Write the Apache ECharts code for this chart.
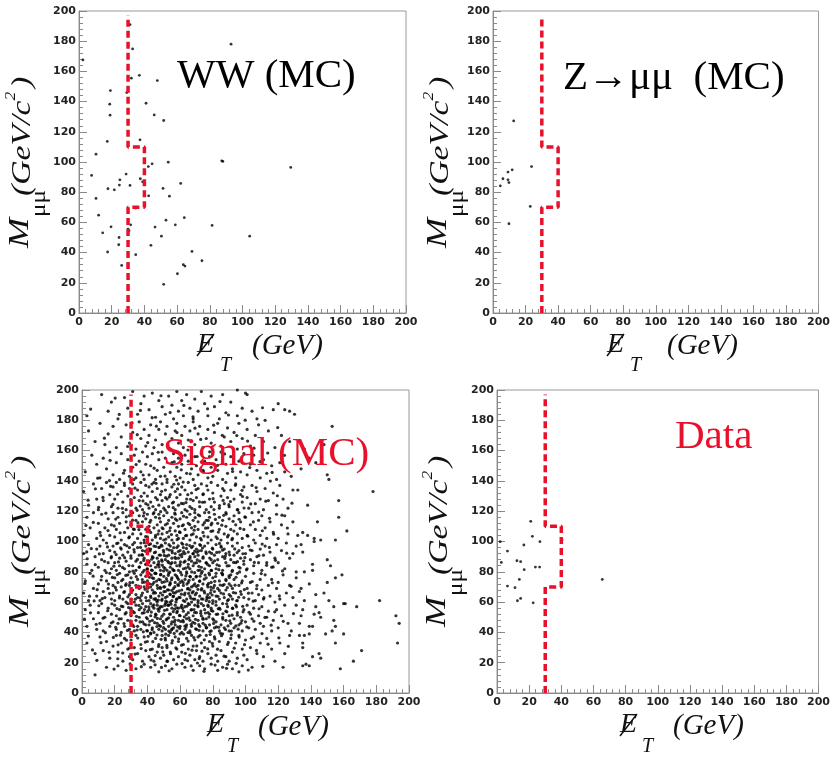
<!DOCTYPE html>
<html><head><meta charset="utf-8">
<script src="https://cdn.jsdelivr.net/npm/echarts@6/dist/echarts.min.js"></script>
<style>html,body{margin:0;padding:0;background:#fff}#c{width:833px;height:757px}</style>
</head><body><div id="c"></div>
<script>
// ---- data ----
const axisMin = 0, axisMax = 200, axisStep = 20;
const cutX = [30, 30, 40, 40, 30, 30];
const cutY = [0, 70, 70, 110, 110, 197];
const panelLabels = ['WW (MC)', 'Z\u2192\u03bc\u03bc  (MC)', 'Signal (MC)', 'Data'];

const wwPts = [[2.4,167.6],[31.2,191],[32.8,174.9],[93,178],[32,155.5],[36.9,157.4],[47.9,153.9],[19.2,147.3],[29.2,146],[18.8,138.3],[41,138.9],[19,131],[46,131.2],[51.8,127.5],[17.3,113.6],[37.3,114.7],[10.4,105.2],[44.7,98.8],[42.4,97],[54.6,99.9],[87.3,100.8],[88,100.4],[129.5,96.4],[7.7,91.1],[28.8,92],[25,88.2],[37.5,88.9],[38.9,86.9],[24.7,84.7],[31.2,84.5],[62.2,85.8],[17.7,82.3],[21.6,81.6],[51.4,82.5],[42.6,77.6],[55.3,77.4],[10.4,75.9],[34.7,69.5],[12,64.8],[64.4,63.1],[53.2,61.5],[31.6,58.4],[19.6,57.1],[46.5,56.9],[58.9,58.4],[81.4,58],[30,55.6],[30.6,54.5],[14.5,53.1],[50.4,50.9],[104.4,50.9],[24.5,50],[24.3,45.2],[44,44.8],[17.5,40.4],[34.7,38.6],[69.1,40.8],[75.2,34.6],[63.8,32],[64.8,31.1],[26.1,31.5],[60.2,26],[51.8,19]];

const zPts = [[12.7,127.2],[23.7,97],[11.8,94.8],[9.2,93.3],[6.1,88.9],[9.2,88.2],[9.8,86.4],[4.5,84.2],[22.9,70.6],[9.8,59.1]];

const dataPts = [[21,113.3],[22,103.4],[26.7,99.9],[2,99.9],[16.7,97.7],[6.5,93.7],[12.4,87.3],[14.7,86.7],[2.7,86.2],[23.9,83.1],[26.5,83.1],[16.9,81.4],[13.9,75],[65.5,75],[6.5,70.6],[11.2,69.5],[12.7,60.9],[14.7,62.4],[22.5,59.5],[40.4,101]];

const sigBand180 = [[3,183],[12,197],[16,186],[18,192],[22,181],[26,195],[28,188],[31,199],[34,184],[36,191],[38,196],[41,187],[43,198],[45,182],[47,193],[49,189],[51,184],[53,196],[55,190],[56,181],[58,199],[59,186],[61,193],[62,183],[64,197],[66,188],[68,181],[69,194],[71,186],[73,199],[75,191],[77,183],[79,196],[81,189],[84,181],[86,197],[88,185],[91,192],[95,200],[95,183],[98,188],[100,198],[101,197],[104,186],[107,181],[112,180],[117,187],[120,191],[124,187],[127,186],[130,184]];
const sigBand160 = [[4,173],[8,166],[11,178],[14,164],[16,171],[19,176],[21,162],[24,169],[27,177],[29,165],[31,172],[33,161],[35,179],[36,168],[38,174],[39,163],[41,170],[42,177],[44,162],[45,167],[47,174],[48,179],[49,164],[51,171],[52,176],[54,161],[55,168],[57,173],[58,178],[59,165],[61,170],[62,162],[63,176],[65,167],[66,173],[68,179],[69,164],[71,171],[72,176],[74,162],[76,168],[77,174],[79,165],[81,172],[83,178],[85,163],[87,169],[89,175],[91,166],[93,172],[95,161],[96,178],[98,168],[101,174],[103,163],[106,170],[108,177],[111,166],[114,173],[118,162],[122,170],[127,166],[136,161],[153,176],[148,164]];
const sigBand140 = [[2,146],[6,157],[9,151],[11,142],[13,155],[15,148],[17,159],[19,144],[21,152],[23,141],[24,158],[26,147],[28,154],[29,143],[31,149],[32,157],[33,142],[35,153],[36,146],[37,159],[38,141],[39,151],[40,156],[41,144],[42,150],[43,158],[45,141],[46,147],[47,154],[48,143],[49,159],[50,149],[51,155],[52,141],[54,146],[55,152],[56,158],[57,143],[58,149],[59,155],[60,142],[61,151],[63,157],[64,145],[65,153],[67,148],[68,141],[69,156],[70,150],[71,144],[73,158],[74,147],[75,153],[77,142],[78,156],[79,149],[80,143],[82,154],[83,147],[85,159],[86,141],[88,151],[89,145],[91,156],[92,148],[94,142],[96,153],[97,146],[99,158],[101,144],[103,151],[105,157],[107,147],[109,142],[111,154],[113,145],[116,150],[119,141],[121,152],[124,146],[128,143],[134,148],[139,155],[143,152],[150,144],[151,141]];
const sigBand120 = [[1,133],[4,124],[7,138],[9,128],[10,121],[12,135],[13,127],[15,139],[17,131],[18,123],[19,136],[20,128],[21,139],[22,122],[24,133],[25,126],[26,137],[27,121],[28,130],[29,135],[30,124],[31,138],[32,129],[33,122],[34,134],[35,127],[36,139],[37,121],[38,132],[39,125],[39,137],[40,130],[41,122],[41,136],[42,126],[43,133],[44,139],[45,121],[45,129],[46,135],[47,124],[48,131],[49,138],[49,127],[50,122],[51,134],[52,128],[52,139],[53,123],[54,131],[55,136],[56,126],[57,121],[57,133],[58,129],[59,138],[59,124],[60,131],[61,136],[62,125],[63,121],[63,134],[64,128],[65,139],[66,123],[67,132],[68,127],[69,137],[69,121],[70,129],[71,135],[72,123],[73,138],[74,131],[75,126],[76,121],[77,134],[78,128],[79,139],[79,123],[80,132],[81,126],[83,137],[84,122],[85,130],[86,135],[87,125],[88,139],[89,129],[90,123],[91,134],[93,128],[94,138],[95,121],[97,131],[98,126],[99,136],[101,129],[102,122],[104,137],[106,125],[107,133],[109,128],[111,121],[112,135],[114,127],[117,132],[119,124],[121,137],[123,128],[126,122],[129,134],[132,134],[138,124],[157,127],[178,133]];
const sigBand100 = [[1,104],[3,116],[5,109],[7,119],[9,102],[10,112],[11,106],[12,118],[13,101],[14,109],[16,115],[17,104],[18,111],[19,119],[20,103],[21,108],[22,116],[23,112],[24,101],[25,119],[26,106],[27,113],[28,109],[29,103],[29,117],[30,111],[31,105],[31,119],[32,108],[33,114],[34,102],[35,117],[35,110],[36,105],[37,113],[38,119],[38,101],[39,108],[39,115],[40,103],[40,118],[41,110],[42,106],[42,114],[43,101],[44,119],[44,109],[45,104],[45,116],[46,111],[47,107],[47,118],[48,102],[48,113],[49,109],[49,105],[50,117],[50,101],[51,111],[52,106],[52,119],[53,114],[53,103],[54,109],[55,116],[55,101],[56,112],[57,107],[57,118],[58,104],[58,114],[59,110],[59,102],[60,115],[60,106],[61,119],[62,111],[62,102],[63,108],[64,116],[64,104],[65,112],[66,118],[66,101],[67,109],[68,114],[68,105],[69,119],[69,110],[70,103],[71,113],[71,108],[72,117],[73,101],[74,111],[74,106],[75,119],[76,114],[77,103],[77,109],[78,116],[79,101],[79,111],[80,107],[81,118],[82,103],[83,112],[84,116],[84,108],[85,101],[86,114],[87,105],[88,119],[88,110],[89,103],[90,115],[91,108],[92,102],[93,117],[94,111],[95,105],[96,119],[97,113],[98,102],[99,108],[100,116],[101,104],[103,111],[104,119],[105,101],[106,108],[108,114],[109,104],[110,117],[112,109],[113,102],[115,113],[117,106],[119,118],[120,102],[122,111],[124,117],[126,105],[129,113],[132,104],[135,106],[138,104],[142,102],[146,101],[144,113],[157,116],[155,101],[162,107]];
const sigBand80 = [[1,92],[3,85],[4,98],[6,81],[8,90],[9,95],[10,83],[11,97],[12,88],[13,92],[14,81],[15,99],[16,86],[17,94],[18,82],[18,90],[19,97],[20,86],[20,93],[21,81],[22,99],[23,89],[23,84],[24,95],[25,91],[26,82],[26,98],[27,87],[28,93],[29,80],[29,96],[30,89],[31,84],[31,98],[32,93],[33,81],[33,87],[34,96],[35,91],[35,83],[36,99],[36,86],[37,94],[38,81],[38,89],[39,97],[39,85],[37,91],[40,92],[40,82],[41,98],[41,87],[42,84],[42,95],[43,90],[43,81],[44,97],[44,86],[45,93],[45,83],[46,99],[46,89],[47,85],[47,96],[48,81],[48,91],[49,87],[49,97],[50,83],[50,93],[51,88],[51,99],[52,81],[52,95],[53,86],[53,91],[54,97],[54,83],[55,89],[55,94],[56,81],[56,99],[57,86],[57,92],[58,84],[58,96],[59,89],[59,81],[55,86],[60,94],[60,85],[61,99],[61,90],[62,82],[62,96],[63,87],[63,92],[64,80],[64,98],[65,85],[65,93],[66,89],[66,82],[67,96],[67,87],[68,92],[68,84],[69,99],[69,90],[70,86],[70,95],[71,81],[71,91],[72,98],[72,87],[73,83],[73,94],[74,89],[75,97],[75,82],[76,92],[76,86],[77,99],[78,84],[78,93],[79,88],[79,81],[80,95],[80,86],[81,91],[82,82],[82,98],[83,88],[84,93],[84,84],[85,97],[86,90],[86,81],[87,95],[88,86],[88,92],[89,99],[90,84],[90,93],[91,88],[92,97],[92,81],[93,91],[94,86],[95,99],[96,83],[96,94],[97,89],[98,96],[99,85],[100,92],[101,82],[102,97],[103,88],[104,94],[105,84],[106,99],[107,90],[108,86],[109,95],[110,81],[111,91],[112,97],[113,86],[115,93],[116,83],[118,89],[119,98],[120,86],[122,94],[124,82],[125,99],[127,89],[129,92],[131,97],[134,98],[135,93],[131,80],[136,80],[141,81],[141,85],[142,100],[150,88],[152,84]];
const sigBand60 = [[1,66],[2,74],[4,61],[5,79],[7,69],[9,64],[10,72],[11,61],[12,77],[13,67],[14,63],[15,74],[16,69],[17,79],[18,62],[19,71],[19,66],[20,76],[20,61],[21,68],[22,73],[23,64],[23,79],[24,70],[25,62],[25,75],[26,67],[27,72],[27,60],[28,78],[29,65],[29,71],[30,62],[30,76],[31,68],[31,73],[32,60],[32,79],[33,65],[33,71],[34,75],[34,63],[35,69],[36,78],[36,61],[37,66],[37,73],[38,70],[39,63],[39,77],[40,67],[40,74],[41,61],[41,79],[42,70],[42,64],[43,76],[43,68],[44,62],[44,73],[45,79],[45,66],[46,71],[46,60],[47,75],[47,64],[48,69],[48,78],[49,62],[49,73],[48,66],[50,70],[50,77],[51,63],[51,67],[52,74],[52,60],[53,79],[53,68],[54,65],[54,72],[55,61],[55,76],[56,69],[56,64],[57,73],[57,78],[58,62],[58,67],[59,71],[59,75],[54,60],[57,66],[60,63],[60,73],[61,68],[61,78],[62,61],[62,71],[63,66],[63,75],[64,62],[64,79],[65,69],[65,73],[66,64],[66,77],[67,60],[67,70],[68,67],[68,75],[69,62],[69,72],[66,68],[70,66],[70,77],[71,61],[71,71],[72,74],[72,64],[73,68],[73,79],[74,62],[74,72],[75,66],[76,76],[76,61],[77,70],[77,65],[78,78],[78,63],[79,73],[79,68],[80,61],[80,76],[81,67],[81,71],[82,64],[82,79],[83,69],[84,62],[84,74],[85,66],[86,78],[86,71],[87,63],[88,68],[88,75],[89,61],[90,72],[90,65],[91,78],[92,62],[92,69],[93,75],[94,66],[95,79],[95,61],[96,71],[97,67],[98,74],[99,63],[100,77],[101,69],[102,62],[103,73],[104,66],[105,79],[106,61],[107,71],[108,65],[109,75],[110,68],[111,62],[112,78],[114,71],[115,64],[116,75],[118,60],[119,69],[120,73],[121,62],[123,78],[125,66],[127,71],[129,63],[131,76],[134,69],[133,67],[136,61],[139,72],[143,65],[148,66],[150,73],[155,76],[159,78],[151,61],[182,61]];
const sigBand40 = [[2,55],[3,44],[5,58],[7,49],[9,42],[10,53],[11,46],[12,59],[13,41],[14,50],[16,56],[17,44],[18,52],[19,47],[20,58],[21,42],[21,51],[22,46],[23,55],[24,40],[24,49],[25,57],[26,44],[27,53],[28,48],[28,59],[29,42],[30,51],[30,56],[31,45],[32,53],[32,41],[33,58],[33,48],[34,44],[35,55],[35,50],[36,42],[37,59],[37,47],[38,53],[39,45],[39,57],[40,49],[40,41],[41,55],[41,45],[42,59],[42,51],[43,43],[43,48],[44,56],[44,40],[45,52],[46,46],[46,58],[47,42],[47,54],[48,49],[48,44],[49,57],[49,41],[50,52],[50,46],[51,59],[51,42],[52,55],[52,49],[53,44],[53,58],[54,40],[54,52],[55,47],[55,56],[56,43],[56,50],[57,58],[57,45],[58,53],[58,41],[59,48],[59,56],[60,44],[60,51],[61,58],[61,40],[62,47],[62,54],[63,42],[63,57],[64,49],[64,45],[65,53],[65,59],[66,41],[66,48],[67,55],[67,44],[68,51],[69,58],[69,46],[70,42],[70,53],[71,48],[71,57],[72,44],[73,51],[73,59],[74,46],[74,41],[75,55],[76,49],[76,43],[77,58],[78,52],[78,45],[79,56],[79,41],[80,49],[80,54],[81,43],[82,58],[82,47],[83,52],[84,41],[84,56],[85,45],[86,50],[86,59],[87,43],[88,54],[88,48],[89,57],[90,41],[90,51],[91,46],[92,56],[93,43],[93,49],[94,58],[95,53],[96,45],[97,50],[98,41],[99,55],[100,47],[101,58],[102,43],[103,52],[104,49],[105,56],[106,42],[108,51],[109,46],[110,57],[111,44],[113,50],[114,54],[116,41],[117,48],[119,55],[120,43],[122,51],[124,58],[126,46],[128,41],[131,58],[135,55],[134,51],[133,46],[139,44],[143,57],[142,52],[145,53],[146,50],[141,44],[154,57],[154,48],[155,44],[153,41],[160,59],[161,59],[168,57],[192,51],[194,46]];
const sigBand20 = [[3,33],[8,26],[11,37],[13,28],[15,34],[17,23],[19,31],[21,38],[22,27],[24,33],[25,21],[26,36],[28,29],[29,24],[30,35],[31,22],[32,30],[33,38],[34,26],[36,32],[37,21],[38,37],[39,28],[40,34],[41,24],[42,39],[43,29],[44,21],[45,36],[46,27],[47,32],[48,23],[49,38],[49,30],[50,25],[51,35],[52,21],[52,30],[53,38],[54,27],[55,33],[56,22],[57,37],[58,29],[59,24],[59,34],[60,39],[61,27],[62,32],[63,22],[64,36],[65,29],[66,25],[67,38],[68,31],[69,22],[69,35],[70,28],[71,37],[72,24],[73,33],[74,21],[75,30],[76,38],[77,26],[78,34],[79,23],[80,31],[81,37],[82,25],[83,21],[84,34],[85,28],[86,39],[88,24],[89,32],[90,21],[91,36],[92,27],[94,33],[95,23],[96,38],[98,29],[99,25],[100,35],[101,22],[103,30],[105,37],[107,26],[109,33],[111,24],[113,36],[116,29],[118,21],[121,33],[124,26],[127,38],[133,38],[136,38],[135,33],[135,30],[139,39],[145,26],[146,23],[141,24],[149,39],[155,33],[160,39],[166,21],[171,28],[193,33]];
const sigBand0 = [[8,12],[15,17],[22,18],[27,15],[33,16],[38,19],[42,17],[47,14],[51,18],[55,16],[58,19],[63,17],[68,15],[72,18],[75,16],[79,19],[83,15],[86,17],[89,19],[92,16],[96,14],[98,18],[104,17],[123,17],[137,19],[139,18],[135,18],[158,16]];

const sigExtraA = [[5.3,187.4],[13.7,168.2],[17.2,153.6],[22.8,183.9],[25.4,145.1],[27.9,162.7],[30.6,178.3],[33.1,150.8],[35.7,186.5],[37.4,143.9],[40.2,165.3],[42.9,181.7],[44.1,148.4],[46.6,158.9],[48.3,196.2],[50.8,143.2],[52.5,163.8],[53.9,185.1],[56.4,152.6],[58.1,171.9],[60.7,147.3],[62.3,189.8],[64.8,160.4],[66.2,144.7],[67.9,182.3],[70.4,156.1],[72.6,167.4],[74.3,145.9],[76.8,187.6],[78.1,159.2],[80.5,176.8],[82.9,150.3],[84.4,192.4],[87.2,157.8],[89.6,183.5],[92.1,146.2],[94.7,169.9],[97.3,154.4],[99.8,180.1],[102.6,148.8],[105.2,161.6],[108.9,152.7],[110.4,188.3],[113.6,158.4],[116.3,145.6],[119.7,175.2],[123.8,156.9],[20.3,194.7],[9.6,141.8],[33.8,170.5],[45.5,176.1],[57.9,140.6],[69.1,174.8],[85.8,170.1],[101.3,166.3],[115.2,139.9]];
const sigExtraB = [[3.7,127.3],[6.9,112.6],[8.2,134.8],[11.4,103.9],[12.8,129.1],[14.6,118.7],[15.9,107.2],[17.5,136.4],[18.9,124.5],[20.6,114.8],[21.8,131.2],[23.3,105.7],[24.7,121.9],[25.9,138.6],[27.1,116.3],[28.6,102.4],[29.8,127.7],[30.9,114.1],[32.4,135.2],[33.7,120.6],[34.8,107.9],[36.2,129.8],[37.6,116.9],[38.9,103.3],[40.3,124.2],[41.5,112.7],[42.8,137.9],[43.6,118.3],[44.9,102.8],[46.1,127.6],[47.4,115.4],[48.7,133.1],[49.6,108.4],[50.9,120.7],[52.2,111.8],[53.4,129.4],[54.7,104.6],[55.8,122.3],[57.1,114.9],[58.4,134.7],[59.6,106.3],[60.8,125.1],[62.1,116.7],[63.3,103.8],[64.7,130.9],[65.9,111.2],[67.2,121.8],[68.6,107.5],[69.8,134.3],[71.1,117.6],[72.5,102.1],[73.7,125.9],[74.9,112.4],[76.3,136.8],[77.6,119.2],[78.9,106.7],[80.2,128.3],[81.6,114.6],[82.8,101.9],[84.1,123.7],[85.5,110.8],[86.9,133.6],[88.2,118.1],[89.5,104.2],[90.8,126.4],[92.4,113.3],[93.8,137.1],[95.3,120.9],[96.7,108.6],[98.2,129.7],[99.6,116.2],[101.4,103.5],[103.2,124.8],[104.8,112.9],[106.5,135.6],[108.1,119.4],[110.3,107.1],[112.4,126.6],[114.7,115.3],[117.2,104.8],[119.5,130.2],[122.3,117.4],[125.6,108.9],[128.4,125.3],[10.2,122.6],[19.7,110.3],[31.7,140.9],[45.3,138.4],[61.9,139.2],[79.4,112.1],[91.7,101.2],[51.3,101.6],[66.4,127.9],[35.6,123.4],[56.2,137.8],[74.2,131.4],[86.3,127.1],[2.4,110.6],[16.8,140.2],[97.9,133.8]];
const sigExtraC = [[1.8,72.4],[3.2,88.6],[4.6,63.9],[5.7,95.3],[6.8,77.1],[8.1,84.7],[9.3,68.2],[10.6,91.8],[11.7,74.6],[12.4,62.3],[13.8,86.9],[14.9,79.5],[15.6,96.4],[16.9,65.8],[17.8,89.2],[18.6,76.3],[19.5,83.7],[2.9,93.1],[7.4,60.8],[16.2,71.9],[20.4,69.7],[20.9,91.4],[21.6,78.2],[22.3,86.5],[22.9,62.7],[23.6,95.8],[24.2,74.1],[24.8,82.9],[25.6,66.4],[26.1,89.3],[26.8,77.6],[27.4,97.2],[28.1,63.5],[28.7,84.1],[29.3,72.8],[29.9,90.6],[30.5,67.3],[31.2,80.4],[31.8,94.7],[32.6,61.9],[33.2,76.8],[33.9,88.2],[34.5,70.6],[35.1,83.3],[35.8,96.1],[36.4,64.4],[37.1,79.7],[37.7,87.5],[38.3,73.2],[38.8,93.6],[39.4,60.9],[39.8,81.7],[21.2,98.6],[26.7,71.1],[32.1,99.3],[36.9,74.9],[40.3,69.2],[40.7,86.1],[41.2,76.4],[41.6,93.8],[42.1,63.1],[42.5,81.2],[43.1,71.7],[43.5,89.4],[44.2,66.6],[44.6,79.1],[45.1,96.7],[45.6,73.9],[46.2,84.6],[46.7,61.4],[47.2,91.1],[47.8,69.8],[48.2,78.3],[48.7,87.9],[49.3,64.7],[49.8,94.2],[50.4,73.4],[50.8,82.2],[51.3,60.6],[51.7,90.3],[52.3,68.1],[52.8,77.7],[53.2,97.9],[53.8,65.3],[54.3,85.2],[54.7,74.8],[55.2,92.6],[55.7,63.6],[56.3,80.8],[56.8,70.2],[57.3,88.7],[57.8,61.9],[58.4,76.1],[58.9,93.4],[59.4,67.4],[59.8,83.9],[41.9,98.4],[44.9,62.3],[47.5,96.3],[50.1,66.9],[53.5,71.3],[56.1,95.9],[58.6,71.6],[43.8,75.6],[49.1,84.4],[54.9,67.8],[60.3,79.6],[60.8,65.2],[61.4,91.7],[61.9,72.9],[62.4,86.3],[62.9,60.4],[63.5,77.3],[63.9,95.4],[64.5,68.7],[64.9,83.1],[65.5,74.4],[66.1,90.1],[66.6,62.6],[67.1,79.9],[67.7,96.8],[68.2,70.9],[68.7,85.7],[69.3,64.9],[69.8,76.6],[70.3,92.9],[70.9,68.4],[71.4,83.6],[71.9,73.7],[72.5,97.4],[73.1,62.1],[73.6,80.2],[74.1,89.9],[74.7,67.2],[75.3,77.9],[75.8,93.1],[76.4,63.4],[76.9,84.8],[77.4,72.3],[78.1,89.1],[78.6,66.1],[79.2,80.9],[79.7,95.6],[61.6,98.2],[65.2,65.7],[72.2,77.1],[77.8,60.3],[68.9,93.7],[80.4,69.4],[81.1,87.3],[81.7,76.9],[82.4,92.8],[83.1,63.8],[83.7,81.4],[84.5,71.3],[85.2,96.2],[85.9,78.6],[86.6,65.4],[87.3,88.8],[88.1,74.2],[88.8,83.9],[89.6,61.6],[90.3,91.2],[91.1,70.8],[91.8,80.2],[92.6,66.3],[93.4,95.1],[94.2,76.4],[95.1,86.7],[95.8,63.2],[96.7,82.5],[97.6,72.6],[98.4,91.9],[99.3,68.3],[84.1,98.7],[89.9,77.3],[94.6,60.9],[98.9,87.1],[100.6,81.3],[101.8,65.9],[102.9,94.4],[104.1,73.6],[105.4,86.2],[106.8,68.8],[108.2,90.7],[109.6,78.8],[111.3,62.9],[112.9,84.3],[114.6,96.1],[116.4,72.7],[118.3,87.6],[120.7,64.1],[122.6,80.6],[125.2,92.3],[127.9,70.4],[104.7,60.6],[110.2,98.3],[116.9,83.2]];
const sigExtraD = [[1.5,48.7],[3.9,37.6],[5.2,52.9],[6.4,28.4],[8.7,45.3],[10.3,57.6],[11.6,33.2],[12.9,49.4],[14.3,39.8],[15.7,54.3],[16.6,26.9],[17.9,46.2],[19.2,36.7],[18.3,58.9],[9.1,21.6],[20.6,43.4],[21.4,55.7],[22.1,31.8],[22.7,48.9],[23.5,38.2],[24.1,57.3],[24.9,26.4],[25.7,45.8],[26.4,52.2],[27.2,34.9],[27.8,41.3],[28.5,56.4],[29.1,29.7],[29.7,47.6],[30.4,38.8],[31.1,53.9],[31.7,43.9],[32.5,25.7],[33.3,50.6],[34.1,36.3],[34.8,57.8],[35.5,46.9],[36.2,29.3],[36.9,52.7],[37.5,40.4],[38.2,55.1],[38.7,33.6],[39.4,49.8],[21.9,22.6],[33.7,41.6],[40.5,37.4],[40.9,56.8],[41.4,47.3],[41.8,28.6],[42.4,53.4],[42.9,41.8],[43.3,33.9],[43.9,58.2],[44.4,46.4],[44.8,24.7],[45.3,51.6],[45.9,38.3],[46.4,55.4],[46.8,30.7],[47.3,44.6],[47.9,57.1],[48.4,35.4],[48.9,50.7],[49.4,27.2],[49.9,43.1],[50.5,54.6],[50.9,36.2],[51.5,48.3],[51.9,31.4],[52.6,57.9],[53.1,40.9],[53.6,52.1],[54.2,25.9],[54.6,45.5],[55.3,34.6],[55.8,53.7],[56.4,39.3],[56.9,48.1],[57.4,29.8],[57.9,56.2],[58.5,43.7],[59.1,35.8],[59.6,51.2],[42.2,21.8],[52.3,20.9],[46.1,49.2],[55.1,42.3],[60.4,47.2],[60.9,31.6],[61.5,55.9],[62.1,38.9],[62.6,50.3],[63.2,26.2],[63.7,43.5],[64.3,57.4],[64.9,34.3],[65.4,49.6],[66.1,39.7],[66.7,54.8],[67.3,28.3],[67.8,46.7],[68.4,36.6],[68.9,53.2],[69.5,42.4],[70.2,31.1],[70.8,57.7],[71.4,45.1],[72.1,38.1],[72.7,54.1],[73.4,27.6],[74.1,48.6],[74.8,35.1],[75.5,52.8],[76.2,43.2],[76.9,29.1],[77.6,50.1],[78.4,38.6],[79.1,54.5],[79.7,32.7],[64.6,21.3],[71.7,22.7],[77.2,57.1],[80.5,45.9],[81.3,35.7],[82.1,51.9],[82.9,28.9],[83.6,43.4],[84.4,55.3],[85.3,37.8],[86.1,48.8],[86.9,24.3],[87.8,41.9],[88.6,53.6],[89.5,33.4],[90.4,47.7],[91.3,38.4],[92.2,55.8],[93.1,29.6],[94.1,44.3],[95,51.4],[96.1,36.9],[97.2,46.1],[98.3,57.2],[99.4,31.9],[100.8,43.6],[102.2,53.3],[103.6,36.1],[105.1,47.4],[106.7,28.1],[108.3,55.6],[110.1,39.2],[111.9,49.9],[113.8,32.2],[115.7,44.8],[117.9,53.6],[120.4,36.4],[123.1,47.3],[126.2,30.8],[129.3,52.4]];
const sigExtraE = [[19.6,15.8],[29.4,19.2],[36.3,17.4],[44.7,18.6],[53.3,14.7],[61.2,19.4],[66.8,17.9],[74.6,14.3],[81.4,18.4],[88.4,16.3],[94.3,19.6],[101.7,15.1],[110.6,17.6],[48.6,16.9],[70.6,19.8]];
const sigExtraF = [[35.4,62.8],[36.7,91.3],[37.9,45.6],[38.6,68.4],[39.2,84.9],[40.1,53.7],[40.8,95.1],[41.3,72.1],[41.9,39.6],[42.6,88.3],[43.2,57.2],[43.7,65.9],[44.3,92.6],[44.7,50.3],[45.2,78.8],[45.8,43.9],[46.3,69.1],[46.9,86.7],[47.4,55.8],[47.9,74.6],[48.5,97.7],[48.8,61.2],[49.5,47.3],[49.9,80.6],[50.3,90.8],[50.7,57.9],[51.2,38.8],[51.6,75.5],[52.1,63.7],[52.5,86.9],[53,49.6],[53.4,94.4],[53.9,72.8],[54.4,58.6],[54.8,41.7],[55.4,81.8],[55.9,66.3],[56.5,46.8],[56.9,89.6],[57.5,60.1],[57.9,77.2],[58.3,53.9],[58.8,97.1],[59.3,63.1],[59.7,42.6],[60.2,86.6],[60.6,56.7],[61.1,74.1],[61.7,47.9],[62.2,93.3],[62.7,64.8],[63.3,82.4],[63.8,51.7],[64.2,71.9],[64.8,39.9],[65.3,88.1],[65.7,58.4],[66.3,76.7],[66.8,45.3],[67.4,66.1],[67.9,91.9],[68.5,55.1],[68.9,79.4],[69.4,48.6],[69.9,70.3],[70.5,87.9],[71,59.6],[71.6,41.4],[72.1,81.1],[72.6,52.6],[73.2,68.9],[73.7,95.7],[74.3,57.7],[74.8,75.1],[75.4,44.8],[75.9,85.8],[76.5,62.4],[77.1,53.1],[77.7,79.1],[78.2,40.6],[78.8,69.9],[79.3,92.1],[79.9,59.2],[80.6,48.1],[81.2,73.7],[81.9,60.3],[82.6,84.6],[83.3,55.6],[84,67.7],[84.7,39.4],[85.4,79.2],[86.2,52.3],[86.9,71.6],[87.7,90.4],[88.5,58.9],[89.3,44.3],[90.1,76.2],[90.9,63.9],[91.8,51.4],[92.7,86.2],[93.6,71.2],[94.5,56.9],[95.5,42.1],[96.4,79.9],[97.4,65.1],[98.5,53.6],[99.6,89.3],[36.1,56.3],[38.1,99.2],[39.6,41.2],[42.3,77.9],[45.4,61.3],[47.1,83.2],[50.6,70.1],[53.7,79.8],[56.6,55.4],[59.9,91.2],[62.9,44.2],[65.9,97.3],[68.1,61.9],[71.3,93.8],[73.9,49.4],[76.7,71.3],[79.6,64.7],[82.2,43.6],[85.9,94.3],[88.9,69.6],[91.4,40.9],[94.9,92.7],[97.8,47.8],[41.1,107.6],[43.4,123.1],[46.5,104.9],[48.1,119.7],[51.1,128.9],[53.6,107.1],[56.7,118.8],[58.2,101.3],[61.3,110.4],[63.6,125.7],[66.9,104.4],[69.2,115.8],[71.8,126.1],[74.6,103.6],[77.2,113.9],[80.7,121.1],[83.4,106.2],[86.7,117.3],[89.8,124.3],[92.9,106.9],[96.1,114.7],[99.1,122.1],[37.3,126.8],[34.2,112.4],[31.4,108.2],[55.3,125.4],[64.3,120.1],[75.6,108.8]];

const signalPts = [].concat(sigBand180, sigBand160, sigBand140, sigBand120, sigBand100, sigBand80, sigBand60, sigBand40, sigBand20, sigBand0,
  sigExtraA, sigExtraB, sigExtraC, sigExtraD, sigExtraE, sigExtraF);

// ---- layout ----
const grids = [
  {left: 79, top: 11, width: 327, height: 302},
  {left: 493, top: 11, width: 327, height: 302},
  {left: 82, top: 390, width: 327, height: 303},
  {left: 497, top: 390, width: 326, height: 303}
];
const panelPts = [wwPts, zPts, signalPts, dataPts];
const dotSize = [2.8, 2.8, 3.2, 2.8];
const RED = '#e8102a';
const tickColor = '#8a8a8a';

function axisCfg(i, margin) {
  return {
    gridIndex: i, type: 'value', min: axisMin, max: axisMax, interval: axisStep,
    axisLine: {show: true, onZero: false, lineStyle: {color: tickColor, width: 1}},
    axisTick: {show: true, inside: true, length: 8, lineStyle: {color: tickColor}},
    minorTick: {show: true, splitNumber: 5, length: 4, lineStyle: {color: tickColor}},
    splitLine: {show: false},
    axisLabel: {margin: margin, fontFamily: 'DejaVu Sans', fontWeight: 'bold', fontSize: 11, color: '#222'}
  };
}

const series = [];
panelPts.forEach(function (pts, i) {
  series.push({
    type: 'scatter', xAxisIndex: i, yAxisIndex: i, data: pts,
    symbol: 'circle', symbolSize: dotSize[i], itemStyle: {color: '#000'}, silent: true, z: 2,
    large: false
  });
  series.push({
    type: 'line', xAxisIndex: i, yAxisIndex: i,
    data: cutX.map(function (x, k) { return [x, cutY[k]]; }),
    symbol: 'none', silent: true, z: 3,
    lineStyle: {color: RED, width: 3.5, type: [7, 4]}
  });
});

// ---- titles (graphic text) ----
const serif = '"Liberation Serif", "Times New Roman", serif';
function yTitle(ox, oy) {
  return {
    type: 'group', x: ox, y: oy, rotation: Math.PI / 2, scaleX: 1.25, silent: true,
    children: [
      {type: 'text', x: 0, y: -10, style: {text: 'M', font: 'italic 29px ' + serif, fill: '#111', textAlign: 'left', textVerticalAlign: 'middle'}},
      {type: 'text', x: 24.8, y: 9.5, style: {text: '\u03bc\u03bc', font: '20px ' + serif, fill: '#111', textAlign: 'left', textVerticalAlign: 'middle'}},
      {type: 'text', x: 41.6, y: -7, style: {text: '(GeV/c', font: 'italic 27px ' + serif, fill: '#111', textAlign: 'left', textVerticalAlign: 'middle'}},
      {type: 'text', x: 118, y: -19, style: {text: '2', font: 'italic 14px ' + serif, fill: '#111', textAlign: 'left', textVerticalAlign: 'middle'}},
      {type: 'text', x: 128, y: -7, style: {text: ')', font: 'italic 27px ' + serif, fill: '#111', textAlign: 'left', textVerticalAlign: 'middle'}}
    ]
  };
}
function xTitle(ex, ey, tx, ty, gx, gy) {
  return [
    {type: 'text', x: ex, y: ey, silent: true, style: {text: 'E', font: 'italic 28px ' + serif, fill: '#111', textAlign: 'left', textVerticalAlign: 'middle'}},
    {type: 'line', silent: true, shape: {x1: ex, y1: ey + 11, x2: ex + 17, y2: ey - 11}, style: {stroke: '#111', lineWidth: 1.5}},
    {type: 'text', x: tx, y: ty, silent: true, style: {text: 'T', font: 'italic 20px ' + serif, fill: '#111', textAlign: 'left', textVerticalAlign: 'middle'}},
    {type: 'text', x: gx, y: gy, silent: true, style: {text: '(GeV)', font: 'italic 29px ' + serif, fill: '#111', textAlign: 'left', textVerticalAlign: 'middle'}}
  ];
}
function label(txt, x, y, color) {
  return {type: 'text', x: x, y: y, silent: true, z: 10, style: {text: txt, font: '41px ' + serif, fill: color, textAlign: 'left', textVerticalAlign: 'middle'}};
}

const graphic = [].concat(
  [yTitle(30, 248), yTitle(448, 248), yTitle(30, 627), yTitle(447, 627)],
  xTitle(197, 345, 220, 366, 252, 346),
  xTitle(607, 345, 630, 366, 667, 346),
  xTitle(207, 725, 227, 747, 258, 727),
  xTitle(620, 725, 642, 747, 673, 726),
  [label(panelLabels[0], 177, 76, '#000'), label(panelLabels[1], 563, 78, '#000'),
   label(panelLabels[2], 163, 454, RED), label(panelLabels[3], 675, 437, RED)]
);

const chart = echarts.init(document.getElementById('c'), null, {renderer: 'canvas'});
chart.setOption({
  animation: false,
  backgroundColor: '#fff',
  grid: grids.map(function (g) { return Object.assign({show: true, borderColor: '#9a9a9a', borderWidth: 1, backgroundColor: 'transparent'}, g); }),
  xAxis: grids.map(function (g, i) { return axisCfg(i, 4); }),
  yAxis: grids.map(function (g, i) { return axisCfg(i, 3); }),
  series: series,
  graphic: graphic
});
</script></body></html>
